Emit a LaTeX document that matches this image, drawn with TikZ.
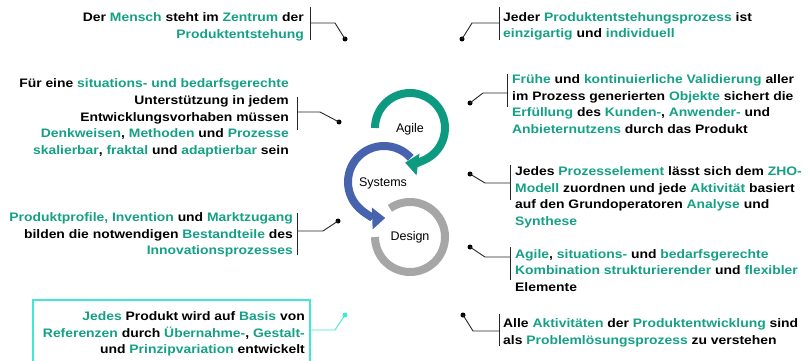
\documentclass[tikz,border=0pt]{standalone}
\usepackage{fontspec}
\setmainfont{Liberation Sans}
\newfontfamily\stmtfont{Liberation Sans}[FakeStretch=1.13]
\usetikzlibrary{arrows.meta}
\definecolor{zgreen}{HTML}{14A085}
\definecolor{ringgreen}{HTML}{0E9A80}
\definecolor{ringblue}{HTML}{4763AE}
\definecolor{ringgray}{HTML}{A6A6A6}
\definecolor{boxcyan}{HTML}{3EE8D2}
\newcommand\gw[1]{\textcolor{zgreen}{#1}}
\begin{document}
\begin{tikzpicture}[x=1pt,y=-1pt,
  txt/.style={font=\stmtfont\bfseries\fontsize{12.3}{16.6}\selectfont, inner sep=0pt},
  lt/.style={txt, align=right, anchor=east},
  rt/.style={txt, align=left, anchor=west},
  lead/.style={line width=0.9pt, black!85},
  dot/.style={circle, fill=black, inner sep=0pt, minimum size=5pt},
  ring/.style={line width=8pt},
  ringlabel/.style={font=\fontsize{12.5}{14}\selectfont, inner sep=0pt}]
\useasboundingbox (0,0) rectangle (809,361);

% --- the three cycles ---
\draw[ring, ringgray] (410,237) ++(-125:35) arc[start angle=-125, end angle=180, radius=35];
\draw[ring, ringgreen, -{Triangle[length=13pt, width=21pt]}]
  (410,128) ++(-180:35) arc[start angle=-180, end angle=98, radius=35];
\draw[ring, ringblue, -{Triangle[length=13pt, width=21pt]}]
  (384,182) ++(-42:36) arc[start angle=-42, end angle=-272, radius=36];
\node[ringlabel] (agile) at (410,129) {Agile};
\node[ringlabel] (systems) at (383,183) {Systems};
\node[ringlabel] (design) at (410,237) {Design};

% --- statements, left side ---
\node[lt] (t1) at (304,27) {Der \gw{Mensch} steht im \gw{Zentrum} der\\ \gw{Produktentstehung}};
\node[lt] (t3) at (289,118) {Für eine \gw{situations- und bedarfsgerechte}\\ Unterstützung in jedem\\ Entwicklungsvorhaben müssen\\ \gw{Denkweisen}, \gw{Methoden} und \gw{Prozesse}\\ \gw{skalierbar}, \gw{fraktal} und \gw{adaptierbar} sein};
\node[lt] (t5) at (293,235) {\gw{Produktprofile, Invention} und \gw{Marktzugang}\\ bilden die notwendigen \gw{Bestandteile} des\\ \gw{Innovationsprozesses}};
\node[lt] (t8) at (305,334) {\gw{Jedes} Produkt wird auf \gw{Basis} von\\ \gw{Referenzen} durch \gw{Übernahme-}, \gw{Gestalt-}\\ und \gw{Prinzipvariation} entwickelt};

% --- statements, right side ---
\node[rt] (t2) at (503,26.5) {Jeder \gw{Produktentstehungsprozess} ist\\ \gw{einzigartig} und \gw{individuell}};
\node[rt] (t4) at (512,104) {\gw{Frühe} und \gw{kontinuierliche Validierung} aller\\ im Prozess generierten \gw{Objekte} sichert die\\ \gw{Erfüllung} des \gw{Kunden-}, \gw{Anwender-} und\\ \gw{Anbieternutzens} durch das Produkt};
\node[rt] (t6) at (515,197.5) {Jedes \gw{Prozesselement} lässt sich dem \gw{ZHO-}\\ \gw{Modell} zuordnen und jede \gw{Aktivität} basiert\\ auf den Grundoperatoren \gw{Analyse} und\\ \gw{Synthese}};
\node[rt] (t7) at (515,270.5) {\gw{Agile}, \gw{situations-} und \gw{bedarfsgerechte}\\ \gw{Kombination strukturierender} und \gw{flexibler}\\ Elemente};
\node[rt] (t9) at (503,333) {Alle \gw{Aktivitäten} der \gw{Produktentwicklung} sind\\ als \gw{Problemlösungsprozess} zu verstehen};

% --- framed statement ---
\node[draw=boxcyan, line width=1.5pt, minimum width=277pt, minimum height=72pt,
  anchor=north west, inner sep=0pt] (frame) at (32,299) {};

% --- brackets with leader lines ending in dots ---
\node[dot] (d1) at (345,39) {};
\node[dot] (d2) at (462,39) {};
\node[dot] (d3) at (339,122) {};
\node[dot] (d4) at (470,103) {};
\node[dot] (d5) at (338,221) {};
\node[dot] (d6) at (470,174) {};
\node[dot] (d7) at (470,247) {};
\node[dot, fill=boxcyan] (d8) at (345,315) {};
\node[dot] (d9) at (463,315) {};

\coordinate (b1t) at (310,7);   \coordinate (b1b) at (310,40);  \coordinate (b1m) at (310,23);  \coordinate (k1) at (335,23);
\coordinate (b2t) at (499,7);   \coordinate (b2b) at (499,40);  \coordinate (b2m) at (499,23);  \coordinate (k2) at (472,23);
\coordinate (b3t) at (297,97);  \coordinate (b3b) at (297,130); \coordinate (b3m) at (297,112); \coordinate (k3) at (320,112);
\coordinate (b4t) at (507,74);  \coordinate (b4b) at (507,107); \coordinate (b4m) at (507,93);  \coordinate (k4) at (483,93);
\coordinate (b5t) at (297,213); \coordinate (b5b) at (297,255); \coordinate (b5m) at (297,231); \coordinate (k5) at (323,231);
\coordinate (b6t) at (510,165); \coordinate (b6b) at (510,200); \coordinate (b6m) at (510,183); \coordinate (k6) at (485,183);
\coordinate (b7t) at (510,247); \coordinate (b7b) at (510,280); \coordinate (b7m) at (510,257); \coordinate (k7) at (485,257);
\coordinate (b8m) at (309,330); \coordinate (k8) at (335,330);
\coordinate (b9t) at (499,314); \coordinate (b9b) at (499,346); \coordinate (b9m) at (499,331); \coordinate (k9) at (473,331);

\foreach \i in {1,...,7,9} {
  \draw[lead] (b\i t) -- (b\i b);
  \draw[lead] (b\i m) -- (k\i) -- (d\i.center);
}
\draw[lead, boxcyan] (b8m) -- (k8) -- (d8.center);
\end{tikzpicture}
\end{document}
